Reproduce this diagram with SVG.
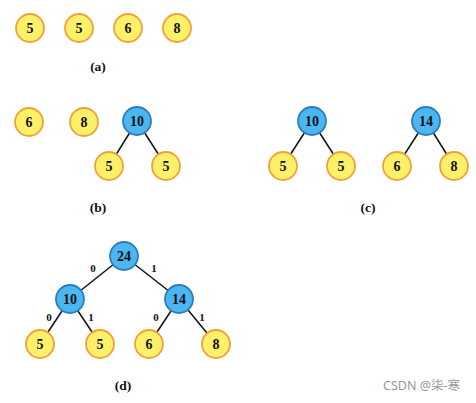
<svg xmlns="http://www.w3.org/2000/svg" width="476" height="403" viewBox="0 0 476 403">
<style>
.y{fill:#FFF06A;stroke:#F0A23A;stroke-width:1.8}
.b{fill:#4CB6F0;stroke:#2C7DBA;stroke-width:1.8}
.t{font-family:"Liberation Serif",serif;font-weight:bold;font-size:14px;fill:#111;text-anchor:middle;dominant-baseline:central}
.c{font-family:"Liberation Serif",serif;font-weight:bold;font-size:13.5px;fill:#111;text-anchor:middle}
.e{font-family:"Liberation Serif",serif;font-weight:bold;font-size:11px;fill:#111;text-anchor:middle}
.l{stroke:#111;stroke-width:1.5}
.w{font-family:"Noto Sans","Noto Sans CJK SC",sans-serif;font-size:12.5px;fill:#9a9a9a}
</style>
<rect width="476" height="403" fill="#fff"/>
<g id="connectors">
<line class="l" x1="137" y1="121" x2="109" y2="166"/>
<line class="l" x1="137" y1="121" x2="166" y2="166"/>
<line class="l" x1="312" y1="121" x2="283" y2="166"/>
<line class="l" x1="312" y1="121" x2="341" y2="166"/>
<line class="l" x1="426" y1="121" x2="397" y2="166"/>
<line class="l" x1="426" y1="121" x2="454" y2="166"/>
<line class="l" x1="124" y1="256" x2="70" y2="299"/>
<line class="l" x1="124" y1="256" x2="179" y2="299"/>
<line class="l" x1="70" y1="299" x2="40" y2="344"/>
<line class="l" x1="70" y1="299" x2="100" y2="344"/>
<line class="l" x1="179" y1="299" x2="149" y2="344"/>
<line class="l" x1="179" y1="299" x2="216" y2="344"/>
<text class="e" x="93" y="272">0</text>
<text class="e" x="154" y="272">1</text>
<text class="e" x="49" y="321">0</text>
<text class="e" x="91" y="321">1</text>
<text class="e" x="156" y="321">0</text>
<text class="e" x="202" y="321">1</text>
</g>
<g id="a1"><circle class="y" cx="30" cy="28" r="14"/><text class="t" x="30" y="28">5</text></g>
<g id="a2"><circle class="y" cx="79" cy="28" r="14"/><text class="t" x="79" y="28">5</text></g>
<g id="a3"><circle class="y" cx="128" cy="28" r="14"/><text class="t" x="128" y="28">6</text></g>
<g id="a4"><circle class="y" cx="177" cy="28" r="14"/><text class="t" x="177" y="28">8</text></g>
<text class="c" x="98" y="71">(a)</text>
<g id="b1"><circle class="y" cx="29" cy="122" r="14"/><text class="t" x="29" y="122">6</text></g>
<g id="b2"><circle class="y" cx="84" cy="122" r="14"/><text class="t" x="84" y="122">8</text></g>
<g id="b3"><circle class="b" cx="137" cy="121" r="14"/><text class="t" x="137" y="121">10</text></g>
<g id="b4"><circle class="y" cx="109" cy="166" r="14"/><text class="t" x="109" y="166">5</text></g>
<g id="b5"><circle class="y" cx="166" cy="166" r="14"/><text class="t" x="166" y="166">5</text></g>
<text class="c" x="98" y="212">(b)</text>
<g id="c1"><circle class="b" cx="312" cy="121" r="14"/><text class="t" x="312" y="121">10</text></g>
<g id="c2"><circle class="y" cx="283" cy="166" r="14"/><text class="t" x="283" y="166">5</text></g>
<g id="c3"><circle class="y" cx="341" cy="166" r="14"/><text class="t" x="341" y="166">5</text></g>
<g id="c4"><circle class="b" cx="426" cy="121" r="14"/><text class="t" x="426" y="121">14</text></g>
<g id="c5"><circle class="y" cx="397" cy="166" r="14"/><text class="t" x="397" y="166">6</text></g>
<g id="c6"><circle class="y" cx="454" cy="166" r="14"/><text class="t" x="454" y="166">8</text></g>
<text class="c" x="368" y="212">(c)</text>
<g id="d1"><circle class="b" cx="124" cy="256" r="14"/><text class="t" x="124" y="256">24</text></g>
<g id="d2"><circle class="b" cx="70" cy="299" r="14"/><text class="t" x="70" y="299">10</text></g>
<g id="d3"><circle class="b" cx="179" cy="299" r="14"/><text class="t" x="179" y="299">14</text></g>
<g id="d4"><circle class="y" cx="40" cy="344" r="14"/><text class="t" x="40" y="344">5</text></g>
<g id="d5"><circle class="y" cx="100" cy="344" r="14"/><text class="t" x="100" y="344">5</text></g>
<g id="d6"><circle class="y" cx="149" cy="344" r="14"/><text class="t" x="149" y="344">6</text></g>
<g id="d7"><circle class="y" cx="216" cy="344" r="14"/><text class="t" x="216" y="344">8</text></g>
<text class="c" x="123" y="390">(d)</text>
<text class="w" x="383" y="390">CSDN @柒-寒</text>
</svg>
